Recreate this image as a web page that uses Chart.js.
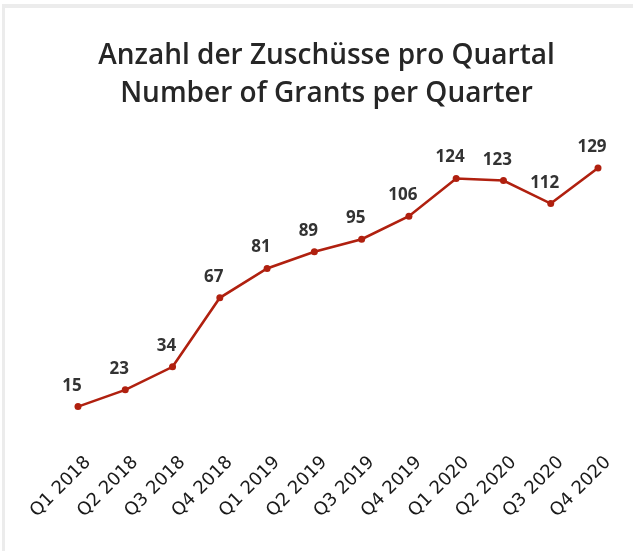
<!DOCTYPE html>
<html>
<head>
<meta charset="utf-8">
<script src="https://cdn.jsdelivr.net/npm/chart.js@4"></script>
<style>
    html, body { margin: 0; padding: 0; background: #fff; }
    #wrap { position: relative; width: 633px; height: 551px; }
    #frame-top { position: absolute; left: 2px; top: 4px; width: 631px; height: 4px; background: #ececec; }
    #frame-left { position: absolute; left: 2px; top: 4px; width: 3px; height: 547px; background: #ececec; }
</style>
</head>
<body>
<div id="wrap">
    <canvas id="grantsChart" width="633" height="551"></canvas>
    <div id="frame-top"></div>
    <div id="frame-left"></div>
</div>
<script>
const quarters = ['Q1 2018', 'Q2 2018', 'Q3 2018', 'Q4 2018', 'Q1 2019', 'Q2 2019',
    'Q3 2019', 'Q4 2019', 'Q1 2020', 'Q2 2020', 'Q3 2020', 'Q4 2020'];
const grants = [15, 23, 34, 67, 81, 89, 95, 106, 124, 123, 112, 129];
const titleLines = ['Anzahl der Zuschüsse pro Quartal', 'Number of Grants per Quarter'];

const LINE_COLOR = '#b0200f';
const TEXT_FONT = 'Open Sans';

// draw the value above each point
const valueLabels = {
    id: 'valueLabels',
    afterDatasetsDraw(chart) {
        const ctx = chart.ctx;
        const meta = chart.getDatasetMeta(0);
        ctx.save();
        ctx.font = 'bold 17px "' + TEXT_FONT + '"';
        ctx.fillStyle = '#333333';
        ctx.textAlign = 'center';
        ctx.textBaseline = 'alphabetic';
        meta.data.forEach((pt, i) => {
            ctx.fillText(String(grants[i]), pt.x - 6, pt.y - 16);
        });
        ctx.restore();
    }
};

const ctx = document.getElementById('grantsChart').getContext('2d');

new Chart(ctx, {
    type: 'line',
    data: {
        labels: quarters,
        datasets: [{
            data: grants,
            borderColor: LINE_COLOR,
            backgroundColor: LINE_COLOR,
            borderWidth: 2.6,
            pointRadius: 3.5,
            pointBackgroundColor: LINE_COLOR,
            pointBorderWidth: 0,
            tension: 0,
            fill: false
        }]
    },
    options: {
        responsive: false,
        animation: false,
        layout: {
            padding: { left: 20, right: 0, top: 0, bottom: 0 }
        },
        plugins: {
            legend: { display: false },
            tooltip: { enabled: false },
            title: {
                display: true,
                text: titleLines,
                color: '#262626',
                font: { family: TEXT_FONT, size: 28, weight: '600', lineHeight: 1.357 },
                padding: { top: 37, bottom: 32 }
            }
        },
        scales: {
            x: {
                offset: false,
                grid: { display: false, drawTicks: false },
                border: { display: false },
                ticks: {
                    color: '#1a1a1a',
                    font: { family: 'DejaVu Sans', size: 18, weight: 'normal' },
                    minRotation: 45,
                    maxRotation: 45,
                    padding: 14,
                    labelOffset: 10
                },
                afterFit(scale) { scale.height = 113; }
            },
            y: {
                position: 'left',
                min: 0,
                max: 140,
                grid: { display: false },
                border: { display: false },
                ticks: { display: false },
                afterFit(scale) { scale.width = 58; }
            },
            yRight: {
                position: 'right',
                grid: { display: false },
                border: { display: false },
                ticks: { display: false },
                afterFit(scale) { scale.width = 35; }
            }
        }
    },
    plugins: [valueLabels]
});
</script>
</body>
</html>
